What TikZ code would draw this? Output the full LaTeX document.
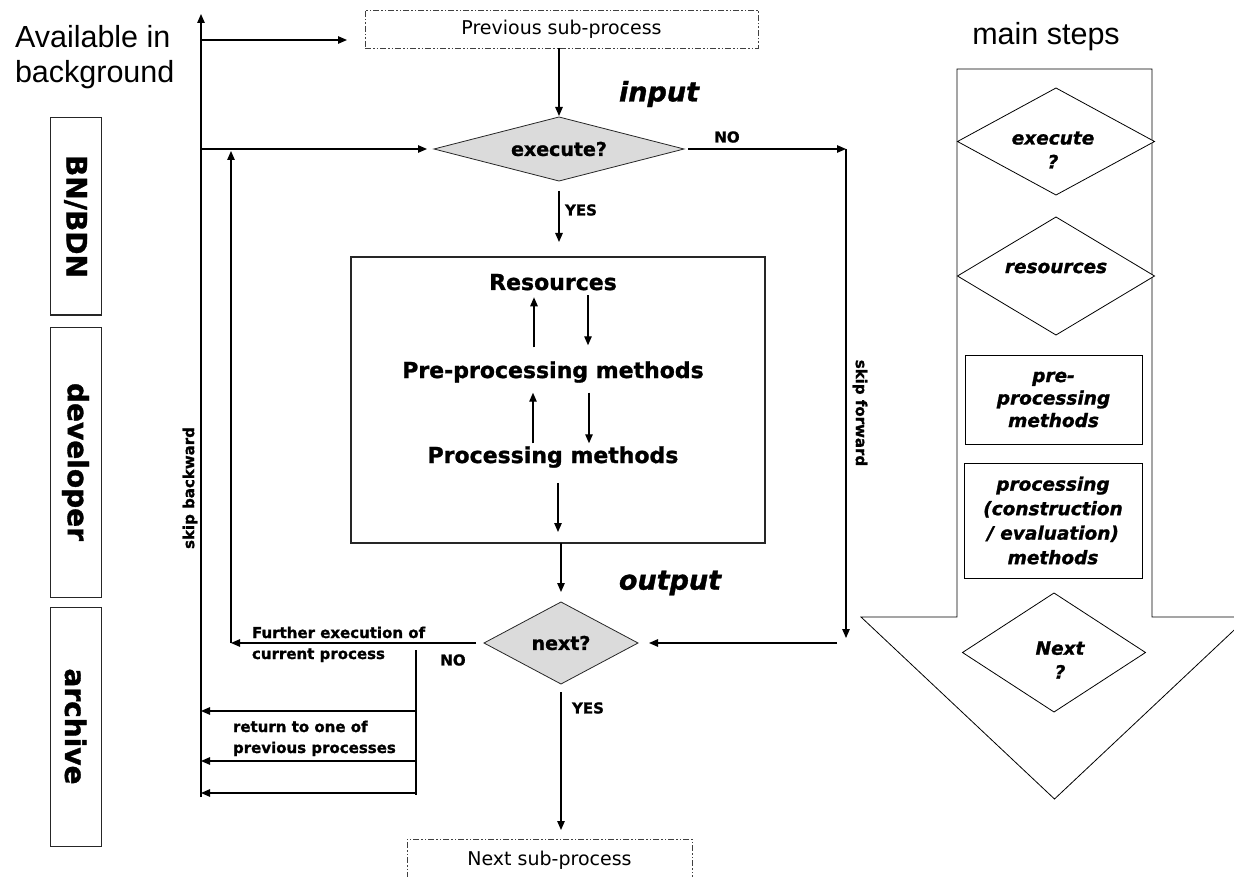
\documentclass[tikz,border=0pt]{standalone}
\usepackage{fontspec}
\setmainfont{DejaVu Sans}[BoldFeatures={FakeBold=1.2},BoldItalicFeatures={FakeBold=1.2}]
\newfontfamily\arialfont{Liberation Sans}
\usetikzlibrary{arrows.meta,shapes.geometric}
\newcommand\fsz[2]{\fontsize{#1}{#2}\selectfont}
\begin{document}
\begin{tikzpicture}[x=1pt,y=-1pt,
  every node/.style={inner sep=0pt,outer sep=0pt},
  conn/.style={line width=1.2pt,black},
  arr/.style={conn,-{Triangle[length=9pt,width=7.5pt]}},
  decision/.style={diamond,draw=black!85,line width=0.8pt,fill=black!14,font=\bfseries\fsz{19}{23}},
  subproc/.style={draw=black!75,line width=0.8pt,
    dash pattern=on 6pt off 2pt on 1.5pt off 2pt on 1.5pt off 2pt,font=\fsz{19}{23}},
  inner/.style={anchor=base,font=\bfseries\fsz{22}{26}},
  lbl/.style={font=\bfseries\fsz{15}{21},align=left},
  heading/.style={font=\bfseries\itshape\fsz{27}{30}},
  sidebox/.style={draw=black!85,line width=1pt,rotate=-90,minimum height=51pt,
    font=\bfseries\fsz{28}{32}},
  stepshape/.style={draw=black,line width=0.8pt,fill=white},
  steptext/.style={font=\bfseries\itshape\fsz{18.5}{24},align=center},
]
\useasboundingbox (0,0) rectangle (1234,877);
\clip (0,0) rectangle (1234,877);

% headings
\node[anchor=north west,align=left,font=\arialfont\fsz{30.5}{35}] (avail) at (15,25.5) {Available in\\background};
\node[anchor=base,font=\arialfont\fsz{30.5}{35}] (mainsteps) at (1046,45) {main steps};

% background resources
\node[sidebox,minimum width=197pt] (bn)  at (75.5,216.5) {BN/BDN};
\node[sidebox,minimum width=270pt] (dev) at (75.5,462)   {developer};
\node[sidebox,minimum width=239pt] (arc) at (75.5,726.5) {archive};

% sub-process flow
\node[subproc,minimum width=393pt,minimum height=38pt] (prev) at (561.5,29) {Previous sub-process};
\node[decision,aspect=3.9,minimum width=250pt,minimum height=64pt] (exe) at (559,149) {execute?};
\node[draw=black!85,line width=1.2pt,minimum width=414pt,minimum height=286pt] (box) at (558,400) {};
\node[inner] (res)  at (553,290) {Resources};
\node[inner] (pre)  at (553,378) {Pre-processing methods};
\node[inner] (proc) at (553,463) {Processing methods};
\node[decision,aspect=1.9,minimum width=154pt,minimum height=82pt] (next) at (561,643) {next?};
\node[subproc,minimum width=285pt,minimum height=42pt,anchor=north] (nextsub) at (549.5,839) {Next sub-process};

\node[heading] (input)  at (659,94)  {input};
\node[heading] (output) at (670,583) {output};

% labels
\node[lbl] (yes1) at (581,210) {YES};
\node[lbl] (no1)  at (727,137) {NO};
\node[lbl] (no2)  at (453,660) {NO};
\node[lbl] (yes2) at (588,708) {YES};
\node[lbl,anchor=north west] (further) at (252,626.6) {Further execution of\\current process};
\node[lbl,anchor=north west] (ret) at (233,720.6) {return to one of\\previous processes};
\node[lbl,rotate=90]  (skipb) at (190,488) {skip backward};
\node[lbl,rotate=-90] (skipf) at (860,413) {skip forward};

% connectors
\coordinate (bgtop) at (201,14);
\coordinate (bgbot) at (201,797);
\draw[arr] (bgbot) -- (bgtop);
\coordinate (previn) at (347,40);
\draw[arr] (previn -| bgtop) -- (previn);
\draw[arr,shorten >=7pt] (exe.west -| bgtop) -- (exe.west);
\draw[arr,shorten >=1pt] (prev.south -| exe.north) -- (exe.north);
\draw[arr,shorten <=10pt,shorten >=15pt] (exe.south) -- (exe.south |- box.north);

\coordinate (skiptop) at (846,149);
\coordinate (skipbot) at (846,638);
\coordinate (skipin) at (837,643);
\draw[arr,shorten <=4pt] (exe.east) -- (skiptop);
\draw[arr] (skiptop) -- (skipbot);
\draw[arr,shorten >=11pt] (skipin) -- (next.east);

\draw[arr,shorten <=14pt,shorten >=7pt] ([xshift=-19pt]pre.north) -- ([xshift=-19pt]res.south);
\draw[arr,shorten <=5pt,shorten >=16pt] ([xshift=35pt]res.south) -- ([xshift=35pt]pre.north);
\draw[arr,shorten <=3pt,shorten >=10pt] ([xshift=-20pt]proc.north) -- ([xshift=-20pt]pre.south);
\draw[arr,shorten <=10pt,shorten >=3pt] ([xshift=36pt]pre.south) -- ([xshift=36pt]proc.north);
\draw[arr,shorten <=15pt,shorten >=11pt] (box.south |- proc.south) -- (box.south);
\draw[arr,shorten >=10pt] (box.south -| next.north) -- (next.north);

\coordinate (loopc) at (231,643);
\draw[arr,shorten <=8pt] (next.west) -- (loopc);
\draw[arr,shorten >=2pt] (loopc) -- (loopc |- exe.west);

\coordinate (rtop) at (416,650);
\coordinate (rbot) at (416,795);
\coordinate (r1) at (416,711);
\coordinate (r2) at (416,761);
\coordinate (r3) at (416,793);
\draw[conn] (rtop) -- (rbot);
\draw[arr] (r1) -- (r1 -| bgbot);
\draw[arr] (r2) -- (r2 -| bgbot);
\draw[arr] (r3) -- (r3 -| bgbot);

\draw[arr,shorten <=8pt,shorten >=9pt] (next.south) -- (next.south |- nextsub.north);

% main steps arrow
\draw[stepshape] (957,69) -- (1152,69) -- (1152,617) -- (1248,617) -- (1054.5,799)
  -- (861,617) -- (957,617) -- cycle;
\node[stepshape,diamond,minimum width=197pt,minimum height=107pt] (rexe) at (1056,141.5) {};
\node[steptext] (rexet) at (1053,150) {execute\\?};
\node[stepshape,diamond,minimum width=197pt,minimum height=118pt] (rres) at (1056,276) {};
\node[steptext] (rrest) at (1056,268) {resources};
\node[stepshape,steptext,font=\bfseries\itshape\fsz{18.5}{22.5},minimum width=177pt,minimum height=89pt] (rpre) at (1053.5,399.5) {pre-\\processing\\methods};
\node[stepshape,steptext,font=\bfseries\itshape\fsz{18.5}{24.5},minimum width=178pt,minimum height=115pt] (rproc) at (1053,520.5) {processing\\(construction\\/ evaluation)\\methods};
\node[stepshape,diamond,minimum width=183pt,minimum height=119pt] (rnext) at (1054,652.5) {};
\node[steptext] (rnextt) at (1060,660) {Next\\?};
\end{tikzpicture}
\end{document}
